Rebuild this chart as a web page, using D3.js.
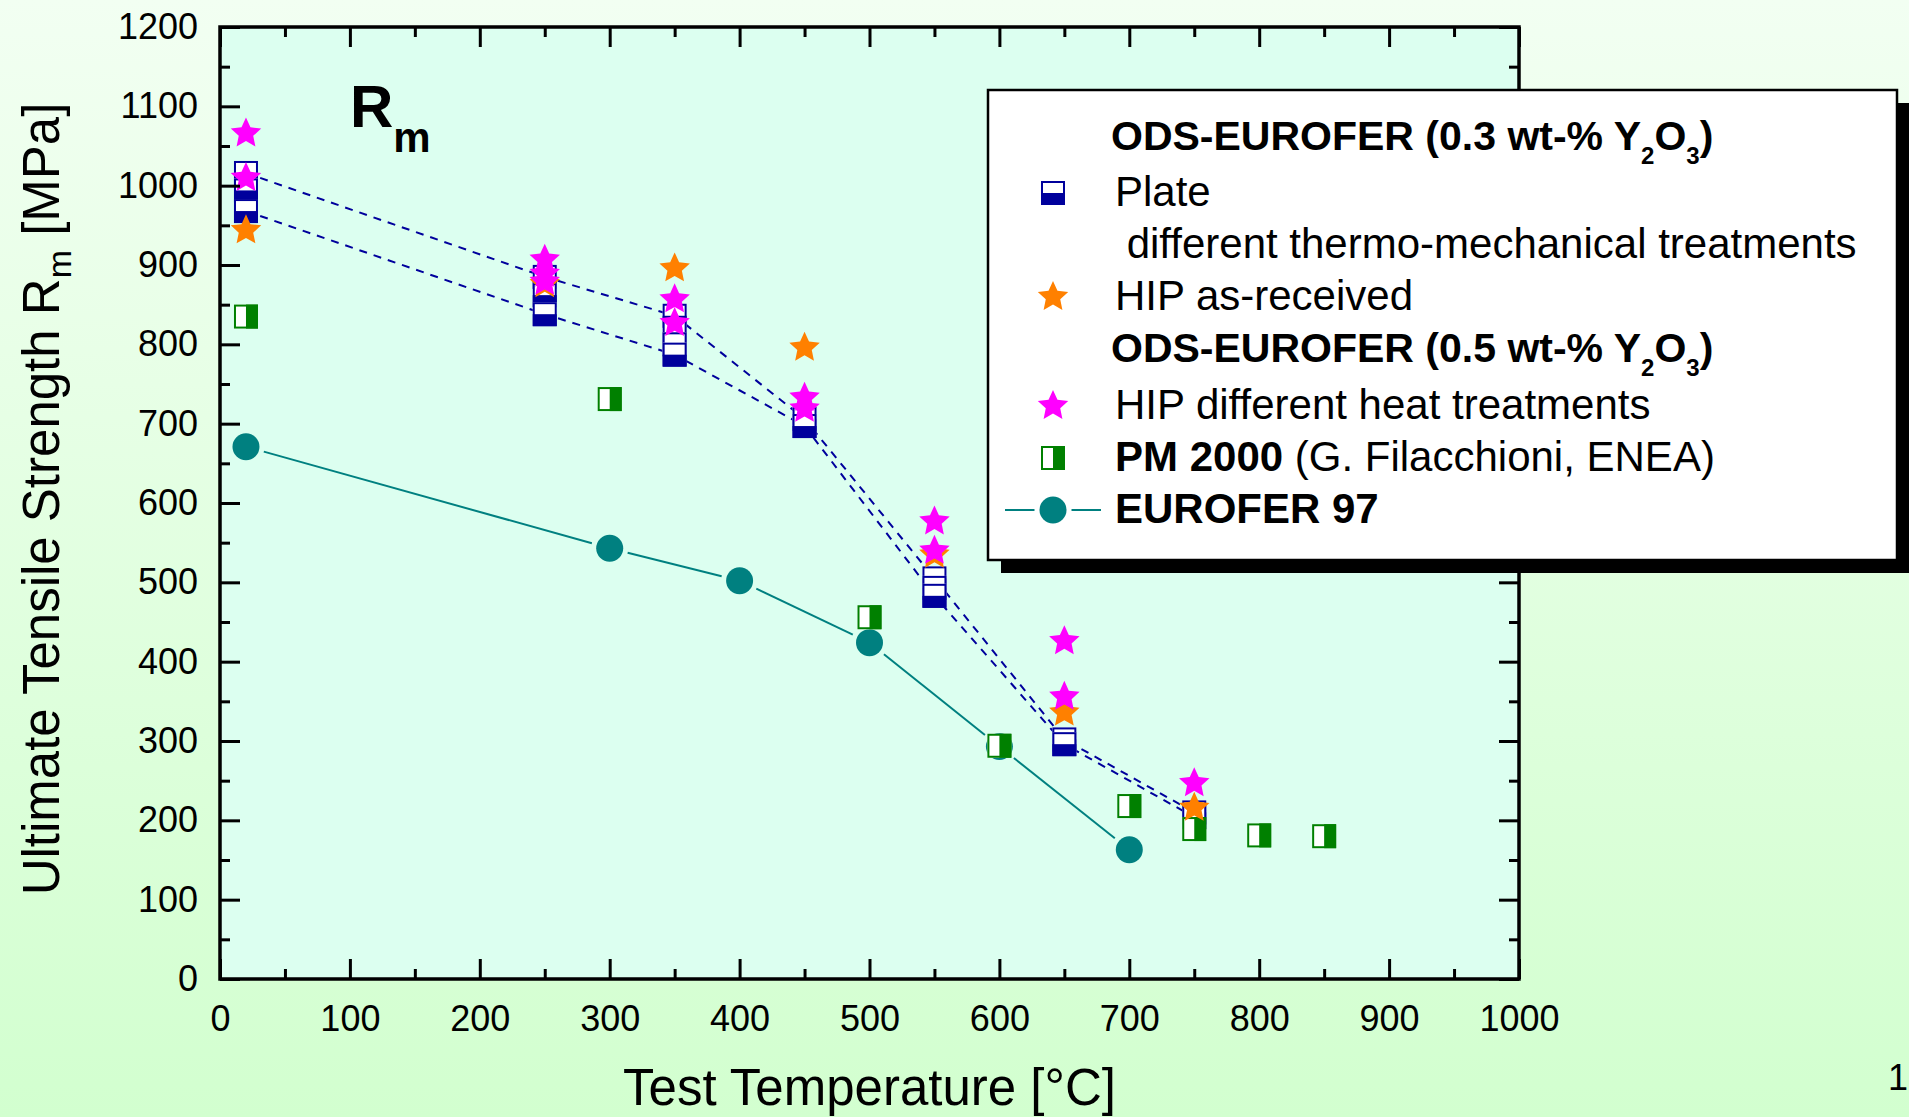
<!DOCTYPE html>
<html><head><meta charset="utf-8">
<script src="https://cdn.jsdelivr.net/npm/d3@7"></script>
<style>html,body{margin:0;padding:0;overflow:hidden;background:#e6ffe4}</style>
</head><body>
<svg id="chart" width="1909" height="1117"></svg>
<script>
// ---------------- data ----------------
const xTicks = [0,100,200,300,400,500,600,700,800,900,1000];
const yTicks = [0,100,200,300,400,500,600,700,800,900,1000,1100,1200];

// ODS-EUROFER 0.3 wt-% Y2O3 plate (different thermo-mechanical treatments)
const plateT = [20,20,20,250,250,250,350,350,350,350,450,450,550,550,550,650,650,750,750];
const plateV = [1016,994,968,885,862,838,836,815,800,787,706,697,505,493,483,302,296,210,204];
// dashed connecting lines (upper and lower envelope)
const plateLineT = [20,250,350,450,550,650,750];
const plateUpperV = [1016,885,836,706,505,302,210];
const plateLowerV = [968,838,787,697,483,296,204];

// HIP as-received (0.3 wt-%)
const hipT = [20,250,350,450,550,650,750];
const hipV = [945,877,897,797,536,337,217];

// ODS-EUROFER 0.5 wt-% HIP different heat treatments
const hip5T = [20,20,250,250,250,350,350,450,450,550,550,650,650,750];
const hip5V = [1067,1011,908,890,880,858,828,734,720,578,541,427,357,248];

// PM 2000
const pmT = [20,300,500,600,700,750,800,850];
const pmV = [835,731,456,294,218,189,181,180];

// EUROFER 97
const euT = [20,300,400,500,600,700];
const euV = [671,543,502,424,293,163];

// ---------------- drawing ----------------
const FONT = "'Liberation Sans', Arial, Helvetica, sans-serif";
const svg = d3.select('#chart');
const defs = svg.append('defs');
const grad = defs.append('linearGradient').attr('id','bg').attr('x1',0).attr('y1',0).attr('x2',0).attr('y2',1);
grad.append('stop').attr('offset','0%').attr('stop-color','#f2fff2');
grad.append('stop').attr('offset','100%').attr('stop-color','#d2ffcf');
svg.append('rect').attr('width',1909).attr('height',1117).attr('fill','url(#bg)');

const L = 220, R = 1519, T = 27, B = 979;
const x = d3.scaleLinear().domain([0,1000]).range([L,R]);
const y = d3.scaleLinear().domain([0,1200]).range([B,T]);

svg.append('rect').attr('x',L).attr('y',T).attr('width',R-L).attr('height',B-T).attr('fill','#dcfff0');

const C = {navy:'#00009c', orange:'#ff8000', magenta:'#ff00ff', green:'#008000', teal:'#008080'};
const SQ = 24, RC = 13.5;
// five-pointed star symbol
function starD(ro, ri){
  const pts = [];
  for (let k = 0; k < 10; k++) {
    const a = -Math.PI/2 + k*Math.PI/5, r = k%2 ? ri : ro;
    pts.push([r*Math.cos(a), r*Math.sin(a)]);
  }
  return 'M' + pts.map(p=>p[0].toFixed(2)+','+p[1].toFixed(2)).join('L') + 'Z';
}
const starPath = starD(16, 7.6);

// ---- EUROFER 97 line with gaps
const gEu = svg.append('g');
const gap = RC + 5;
for (let i = 0; i < euT.length - 1; i++) {
  const x1 = x(euT[i]), y1 = y(euV[i]), x2 = x(euT[i+1]), y2 = y(euV[i+1]);
  const d = Math.hypot(x2-x1, y2-y1), ux = (x2-x1)/d, uy = (y2-y1)/d;
  gEu.append('line').attr('x1',x1+ux*gap).attr('y1',y1+uy*gap).attr('x2',x2-ux*gap).attr('y2',y2-uy*gap)
    .attr('stroke',C.teal).attr('stroke-width',2);
}
gEu.selectAll('circle').data(euT.map((t,i)=>[t,euV[i]])).join('circle')
  .attr('cx',d=>x(d[0])).attr('cy',d=>y(d[1])).attr('r',RC).attr('fill',C.teal);

// ---- plate dashed lines
const line = d3.line().x(d=>x(d[0])).y(d=>y(d[1]));
[plateUpperV, plateLowerV].forEach(vals => {
  svg.append('path').attr('d', line(plateLineT.map((t,i)=>[t,vals[i]])))
    .attr('fill','none').attr('stroke',C.navy).attr('stroke-width',2).attr('stroke-dasharray','8,7');
});

function halfSquare(g, cx, cy, color, mode) {
  const h = SQ/2;
  g.append('rect').attr('x',cx-h).attr('y',cy-h).attr('width',SQ).attr('height',SQ).attr('fill','#ffffff');
  if (mode === 'bottom') g.append('rect').attr('x',cx-h).attr('y',cy).attr('width',SQ).attr('height',h).attr('fill',color);
  else g.append('rect').attr('x',cx).attr('y',cy-h).attr('width',h).attr('height',SQ).attr('fill',color);
  g.append('rect').attr('x',cx-h+1).attr('y',cy-h+1).attr('width',SQ-2).attr('height',SQ-2)
    .attr('fill','none').attr('stroke',color).attr('stroke-width',2);
}

const gPlate = svg.append('g');
plateT.forEach((t,i)=>halfSquare(gPlate, x(t), y(plateV[i]), C.navy, 'bottom'));

const gPm = svg.append('g');
pmT.forEach((t,i)=>halfSquare(gPm, x(t), y(pmV[i]), C.green, 'right'));

svg.append('g').selectAll('path').data(hipT.map((t,i)=>[t,hipV[i]])).join('path')
  .attr('d',starPath).attr('transform',d=>`translate(${x(d[0])},${y(d[1])+1})`).attr('fill',C.orange);
svg.append('g').selectAll('path').data(hip5T.map((t,i)=>[t,hip5V[i]])).join('path')
  .attr('d',starPath).attr('transform',d=>`translate(${x(d[0])},${y(d[1])+1})`).attr('fill',C.magenta);

// ---- axes
function styleAxis(g){ g.attr('font-family',FONT).attr('font-size',36); g.select('.domain').remove();
  g.selectAll('.tick line').attr('stroke','#000').attr('stroke-width',3); g.selectAll('text').attr('fill','#000'); }
const xMinor = d3.range(50,1000,100), yMinor = d3.range(50,1200,100);
svg.append('g').attr('transform',`translate(0,${B})`).call(d3.axisBottom(x).tickValues(xTicks).tickSize(-20).tickPadding(26).tickFormat(d3.format('d'))).call(styleAxis);
svg.append('g').attr('transform',`translate(0,${B})`).call(d3.axisBottom(x).tickValues(xMinor).tickSize(-10).tickFormat('')).call(styleAxis);
svg.append('g').attr('transform',`translate(0,${T})`).call(d3.axisTop(x).tickValues(xTicks).tickSize(-20).tickFormat('')).call(styleAxis);
svg.append('g').attr('transform',`translate(0,${T})`).call(d3.axisTop(x).tickValues(xMinor).tickSize(-10).tickFormat('')).call(styleAxis);
svg.append('g').attr('transform',`translate(${L},0)`).call(d3.axisLeft(y).tickValues(yTicks).tickSize(-20).tickPadding(22).tickFormat(d3.format('d'))).call(styleAxis);
svg.append('g').attr('transform',`translate(${L},0)`).call(d3.axisLeft(y).tickValues(yMinor).tickSize(-10).tickFormat('')).call(styleAxis);
svg.append('g').attr('transform',`translate(${R},0)`).call(d3.axisRight(y).tickValues(yTicks).tickSize(-20).tickFormat('')).call(styleAxis);
svg.append('g').attr('transform',`translate(${R},0)`).call(d3.axisRight(y).tickValues(yMinor).tickSize(-10).tickFormat('')).call(styleAxis);
svg.append('rect').attr('x',L).attr('y',T).attr('width',R-L).attr('height',B-T).attr('fill','none').attr('stroke','#000').attr('stroke-width',3.5);

// ---- axis titles
svg.append('text').attr('x',(L+R)/2).attr('y',1105).attr('text-anchor','middle')
  .attr('font-family',FONT).attr('font-size',51).text('Test Temperature [°C]');
const yt = svg.append('text').attr('transform','translate(59,499) rotate(-90)').attr('text-anchor','middle')
  .attr('font-family',FONT).attr('font-size',51);
yt.append('tspan').text('Ultimate Tensile Strength R');
yt.append('tspan').attr('font-size',34).attr('dy',12).text('m');
yt.append('tspan').attr('dy',-12).text(' [MPa]');

// ---- R_m label
const rm = svg.append('text').attr('x',350).attr('y',127).attr('font-family',FONT).attr('font-weight','bold').attr('font-size',60);
rm.append('tspan').text('R');
rm.append('tspan').attr('font-size',42).attr('dy',25).text('m');

// ---- legend
const LX = 988, LY = 90, LW = 909, LH = 470;
svg.append('rect').attr('x',LX+13).attr('y',LY+13).attr('width',LW).attr('height',LH).attr('fill','#000');
svg.append('rect').attr('x',LX).attr('y',LY).attr('width',LW).attr('height',LH).attr('fill','#fff').attr('stroke','#000').attr('stroke-width',2.5);
const lg = svg.append('g').attr('font-family',FONT).attr('font-size',42);
const symX = 1053, txtX = 1115;
function oxideTitle(by, pct){
  const t = lg.append('text').attr('x',1111).attr('y',by).attr('font-weight','bold').attr('font-size',41);
  t.append('tspan').text(`ODS-EUROFER (${pct} wt-% Y`);
  t.append('tspan').attr('font-size',24).attr('dy',14).text('2');
  t.append('tspan').attr('dy',-14).text('O');
  t.append('tspan').attr('font-size',24).attr('dy',14).text('3');
  t.append('tspan').attr('dy',-14).text(')');
}
oxideTitle(150,'0.3');
halfSquare(lg, symX, 193, C.navy, 'bottom');
lg.append('text').attr('x',txtX).attr('y',206).text('Plate');
lg.append('text').attr('x',txtX).attr('y',258).attr('xml:space','preserve').text(' different thermo-mechanical treatments');
lg.append('path').attr('d',starPath).attr('transform',`translate(${symX},297)`).attr('fill',C.orange);
lg.append('text').attr('x',txtX).attr('y',310).text('HIP as-received');
oxideTitle(362,'0.5');
lg.append('path').attr('d',starPath).attr('transform',`translate(${symX},406)`).attr('fill',C.magenta);
lg.append('text').attr('x',txtX).attr('y',419).text('HIP different heat treatments');
halfSquare(lg, symX, 458, C.green, 'right');
const pm = lg.append('text').attr('x',txtX).attr('y',471);
pm.append('tspan').attr('font-weight','bold').text('PM 2000');
pm.append('tspan').text(' (G. Filacchioni, ENEA)');
lg.append('line').attr('x1',1005).attr('x2',symX-RC-5).attr('y1',510).attr('y2',510).attr('stroke',C.teal).attr('stroke-width',2);
lg.append('line').attr('x1',symX+RC+5).attr('x2',1101).attr('y1',510).attr('y2',510).attr('stroke',C.teal).attr('stroke-width',2);
lg.append('circle').attr('cx',symX).attr('cy',510).attr('r',RC).attr('fill',C.teal);
lg.append('text').attr('x',txtX).attr('y',523).attr('font-weight','bold').text('EUROFER 97');

// page number
svg.append('text').attr('x',1888).attr('y',1090).attr('font-family',FONT).attr('font-size',36).text('1');
</script>
</body></html>
